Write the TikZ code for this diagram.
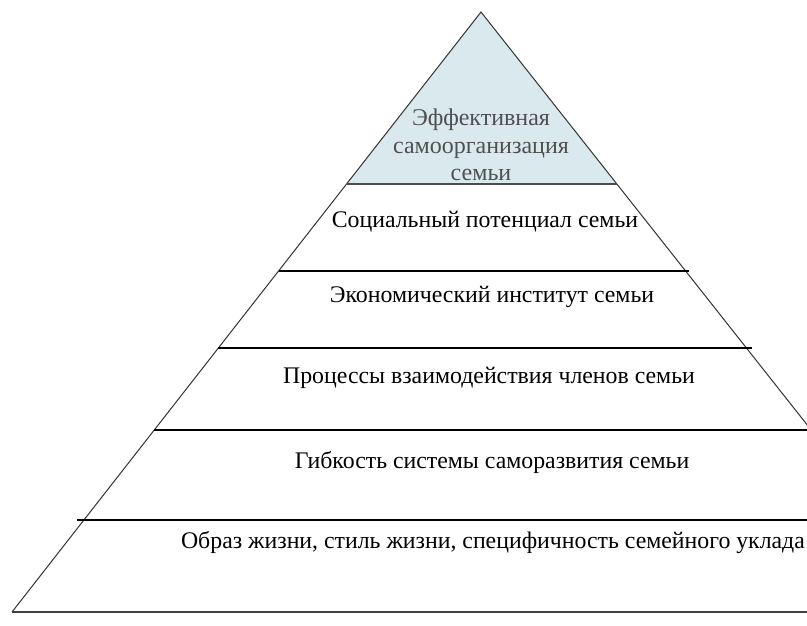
\documentclass[tikz,border=0pt]{standalone}
\usepackage{fontspec}
\setmainfont{Liberation Serif}
\usetikzlibrary{intersections, calc}
\definecolor{topfill}{RGB}{218,233,237}
\definecolor{topgrey}{RGB}{80,80,80}

\begin{document}
\begin{tikzpicture} [x=1pt, y=-1pt]
\def\layerfont{\fontsize{23.8}{28}\selectfont};
\def\sidew{1pt};
\def\bandw{1.4pt};
\useasboundingbox (0,0) rectangle (807,625);
\clip (0,0) rectangle (807,625);
\coordinate (T) at (481,12);
\coordinate (L) at (12,612);
\coordinate (R) at (955,612);
\path [name path=leftside] (T) -- (L);
\path [name path=rightside] (T) -- (R);
\path [name path=cutA] (-50,184) -- (1000,184);
\path [name path=cutB] (-50,271) -- (1000,271);
\path [name path=cutC] (-50,348) -- (1000,348);
\path [name path=cutD] (-50,430) -- (1000,430);
\path [name path=cutE] (-50,520) -- (1000,520);
\path [name intersections={of=leftside and cutA, by=A1}];
\path [name intersections={of=rightside and cutA, by=A2}];
\path [name intersections={of=leftside and cutB, by=B1}];
\path [name intersections={of=rightside and cutB, by=B2}];
\path [name intersections={of=leftside and cutC, by=C1}];
\path [name intersections={of=rightside and cutC, by=C2}];
\path [name intersections={of=leftside and cutD, by=D1}];
\path [name intersections={of=rightside and cutD, by=D2}];
\path [name intersections={of=leftside and cutE, by=E1}];
\path [name intersections={of=rightside and cutE, by=E2}];
\fill [topfill] (T) -- (A1) -- (A2) -- cycle;
\draw [black!80, line width=\sidew] (L) -- (T) -- (R);
\draw [black!70, line width=2.6pt] (A1) -- (A2);
\draw [black, line width=\bandw] (B1) -- ($(B2)+(3,0)$);
\draw [black, line width=\bandw] (C1) -- ($(C2)+(6,0)$);
\draw [black, line width=\bandw] (D1) -- (D2);
\draw [black, line width=\bandw] ($(E1)+(-7,0)$) -- (E2);
\draw [black!75, line width=\bandw] (L) -- (R);
\node (top) [align=center, text=topgrey, font=\fontsize{24}{27.5}\selectfont] at (481,145) {Эффективная\\самоорганизация\\семьи};
\node (social) [font=\layerfont] at (485,222) {Социальный потенциал семьи};
\node (econ) [font=\layerfont] at (492,297) {Экономический институт семьи};
\node (proc) [font=\layerfont] at (489,378) {Процессы взаимодействия членов семьи};
\node (flex) [font=\layerfont] at (492,463) {Гибкость системы саморазвития семьи};
\node (life) [font=\layerfont] at (493,543) {Образ жизни, стиль жизни, специфичность семейного уклада};
\end{tikzpicture}
\end{document}
